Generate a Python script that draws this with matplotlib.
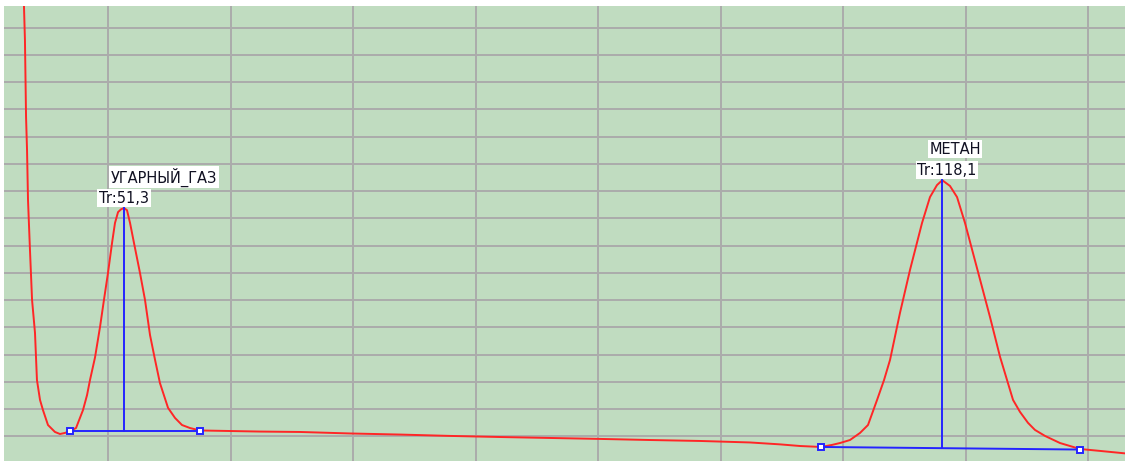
import matplotlib.pyplot as plt
import numpy as np

# chromatogram trace (retention time, signal)
time = [43.10, 43.14, 43.22, 43.31, 43.39, 43.47, 43.63, 43.80, 44.04, 44.20,
        44.45, 44.69, 45.10, 45.67, 46.08, 46.49, 46.90, 47.39, 47.55, 47.96,
        48.29, 48.53, 48.94, 49.35, 49.67, 50.00, 50.33, 50.57, 50.82, 51.06,
        51.30, 51.55, 51.80, 52.12, 52.61, 53.02, 53.43, 53.84, 54.24, 54.90,
        55.47, 56.04, 56.69, 57.51, 59.96, 62.41, 65.67, 69.76, 73.84, 77.92,
        82.00, 86.08, 90.16, 94.24, 98.33, 102.41, 104.86, 106.49, 108.20, 109.10,
        109.76, 110.57, 111.39, 112.04, 112.78, 113.35, 113.84, 114.65, 115.47, 116.45,
        117.10, 117.67, 118.10, 118.73, 119.31, 119.96, 120.61, 121.35, 122.00, 122.82,
        123.39, 123.88, 124.45, 125.10, 125.67, 126.49, 127.71, 128.53, 129.35, 130.98,
        133.02]
signal = [23.34, 15.79, 14.54, 11.72, 10.51, 8.67, 6.84, 5.01, 3.80, 2.07,
          1.34, 0.97, 0.42, 0.165, 0.09, 0.13, 0.20, 0.31, 0.495, 0.97,
          1.52, 2.07, 2.90, 4.02, 5.01, 6.00, 7.10, 7.83, 8.23, 8.33,
          8.38, 8.30, 7.83, 7.10, 6.00, 5.01, 3.72, 2.81, 1.96, 1.05,
          0.68, 0.42, 0.31, 0.22, 0.20, 0.18, 0.165, 0.11, 0.07, 0.02,
          -0.02, -0.055, -0.09, -0.13, -0.165, -0.22, -0.29, -0.35, -0.385, -0.31,
          -0.24, -0.13, 0.13, 0.42, 1.34, 2.07, 2.81, 4.53, 6.11, 7.83,
          8.78, 9.22, 9.40, 9.19, 8.78, 7.83, 6.73, 5.48, 4.38, 2.92,
          2.07, 1.34, 0.90, 0.50, 0.24, 0.02, -0.24, -0.35, -0.46, -0.53,
          -0.62]

# integrated peaks
peak_names = ["УГАРНЫЙ_ГАЗ", "МЕТАН"]
peak_tr = [51.3, 118.1]
peak_height = [8.38, 9.40]
base_start_t = [46.90, 108.20]
base_start_s = [0.20, -0.385]
base_end_t = [57.51, 129.35]
base_end_s = [0.20, -0.48]

fig = plt.figure(figsize=(11.25, 4.61), dpi=100)
ax = fig.add_axes([4 / 1125, 0, 1121 / 1125, 455 / 461])
ax.set_facecolor("#c0dcc0")

ax.set_xticks(np.arange(50, 140, 10))
ax.set_yticks(np.arange(0, 16, 1))
ax.set_xlim(41.51, 133.02)
ax.set_ylim(-0.9, 15.79)
ax.grid(True, color="#ababab", lw=1.4)
ax.set_axisbelow(True)
ax.tick_params(length=0, labelbottom=False, labelleft=False)
for s in ax.spines.values():
    s.set_visible(False)

ax.plot(time, signal, color="#ff2626", lw=1.4, zorder=3)

for i in range(len(peak_names)):
    t0, s0 = base_start_t[i], base_start_s[i]
    t1, s1 = base_end_t[i], base_end_s[i]
    tr = peak_tr[i]
    s_base = s0 + (s1 - s0) * (tr - t0) / (t1 - t0)
    ax.plot([t0, t1], [s0, s1], color="#2424ff", lw=1.4, zorder=4)
    ax.plot([tr, tr], [s_base, peak_height[i]], color="#2424ff", lw=1.4, zorder=4)
    ax.plot([t0, t1], [s0, s1], ls="none", marker="s", ms=4.8,
            mfc="white", mec="#2424ff", mew=1.4, zorder=5)
    box = dict(facecolor="white", edgecolor="none", pad=1.2)
    ax.annotate("Tr:" + f"{tr:.1f}".replace(".", ","), (tr, peak_height[i]),
                xytext=(-25, 10), textcoords="offset pixels",
                ha="left", va="center", fontsize=10.5, color="#111122",
                bbox=box, zorder=6)
    ax.annotate(peak_names[i], (tr, peak_height[i]),
                xytext=(-13, 31), textcoords="offset pixels",
                ha="left", va="center", fontsize=10.5, color="#111122",
                bbox=box, zorder=6)

fig.savefig("out.png", dpi=100)
